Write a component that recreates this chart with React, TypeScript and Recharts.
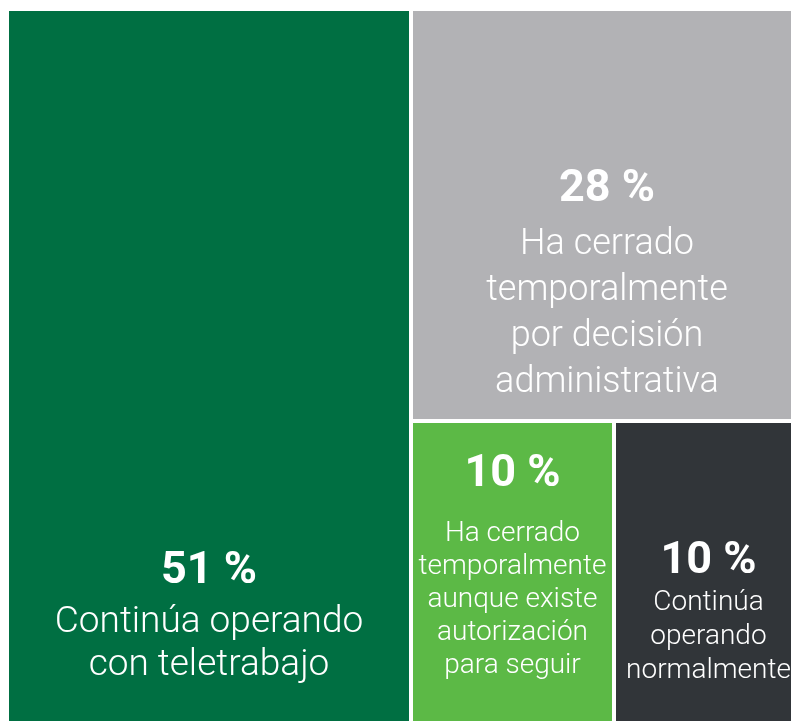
import React from 'react';
import { Treemap } from 'recharts';

// Category labels (line breaks as shown in the reference)
const categories: string[] = [
  'Continúa operando\ncon teletrabajo',
  'Ha cerrado\ntemporalmente\npor decisión\nadministrativa',
  'Ha cerrado\ntemporalmente\naunque existe\nautorización\npara seguir',
  'Continúa\noperando\nnormalmente',
];

// Share of each category (estimated from the area of each block)
const shares: number[] = [50.7, 28.2, 10.9, 10.2];

// Percentages as printed on the chart
const shownPercent: string[] = ['51 %', '28 %', '10 %', '10 %'];

const colors: string[] = ['#006F42', '#B2B2B5', '#5CB946', '#313539'];

// Label styling per block (sizes, line height, spacing, bottom padding)
const labelStyles = [
  { num: 45, lab: 37, lh: 43, gap: 49, pad: 54 },
  { num: 45, lab: 36, lh: 46, gap: 53, pad: 29 },
  { num: 45, lab: 28, lh: 33, gap: 55, pad: 56 },
  { num: 45, lab: 28, lh: 34, gap: 37, pad: 51 },
];

const data = categories.map((c, i) => ({ name: c, size: shares[i], idx: i }));

const FONT = 'Roboto, "Noto Sans", sans-serif';

const Block = (props: any) => {
  const { x, y, width, height, depth } = props;
  if (depth !== 1) return <g />;
  const i: number = props.idx ?? props.index;
  const st = labelStyles[i];
  const lines = categories[i].split('\n');
  const cx = x + width / 2;
  const lastBase = y + height - st.pad;
  const firstBase = lastBase - (lines.length - 1) * st.lh;
  const numBase = firstBase - st.gap;
  return (
    <g>
      <rect x={x} y={y} width={width} height={height} fill={colors[i]} stroke="#ffffff" strokeWidth={4} />
      <text
        x={cx}
        y={numBase}
        textAnchor="middle"
        fill="#ffffff"
        fontSize={st.num}
        fontWeight={700}
        fontFamily={FONT}
      >
        {shownPercent[i]}
      </text>
      <text textAnchor="middle" fill="#ffffff" fontSize={st.lab} fontWeight={300} fontFamily={FONT}>
        {lines.map((l, k) => (
          <tspan key={k} x={cx} y={firstBase + k * st.lh}>
            {l}
          </tspan>
        ))}
      </text>
    </g>
  );
};

export default function App() {
  return (
    <div style={{ position: 'fixed', left: 7, top: 9 }}>
      <Treemap
        width={796}
        height={720}
        data={data}
        dataKey="size"
        nameKey="name"
        aspectRatio={1}
        isAnimationActive={false}
        content={<Block />}
      />
    </div>
  );
}
